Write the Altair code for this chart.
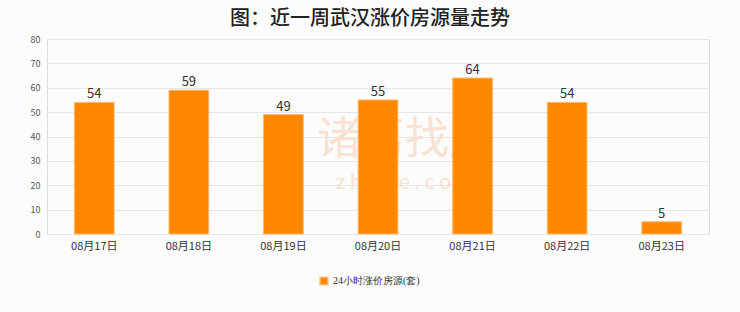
import altair as alt
import pandas as pd

dates = ["08月17日", "08月18日", "08月19日", "08月20日", "08月21日", "08月22日", "08月23日"]
values = [54, 59, 49, 55, 64, 54, 5]
series = "24小时涨价房源(套)"

df = pd.DataFrame({"date": dates, "value": values, "series": [series] * len(dates)})

FONT = "Noto Sans CJK SC"

base = alt.Chart(df).encode(
    x=alt.X("date:N", sort=dates, title=None,
            scale=alt.Scale(paddingInner=0.58, paddingOuter=0.29),
            axis=alt.Axis(labelAngle=0, labelFontSize=11, labelColor="#333333",
                          labelFont=FONT, ticks=False, domain=False, labelPadding=6)),
    y=alt.Y("value:Q", title=None,
            scale=alt.Scale(domain=[0, 80]),
            axis=alt.Axis(values=[0, 10, 20, 30, 40, 50, 60, 70, 80], labelFontSize=9,
                          labelColor="#555555", labelFont=FONT, ticks=False, domain=False,
                          gridColor="#e6e6e6", labelPadding=7)),
)

# faint watermark behind the bars
wm = alt.Chart(pd.DataFrame({"a": ["诸葛找房"], "b": ["z h u g e . c o m"]}))
wm_main = wm.mark_text(fontSize=44, font=FONT, color="#f9dcc6", opacity=0.8).encode(
    text="a:N", x=alt.value(358), y=alt.value(102))
wm_sub = wm.mark_text(fontSize=20, font=FONT, color="#f9dcc6", opacity=0.8).encode(
    text="b:N", x=alt.value(358), y=alt.value(144))

bars = base.mark_bar(color="#ff8800", stroke="#ffb870", strokeWidth=1).encode(
    color=alt.Color("series:N", scale=alt.Scale(range=["#ff8800"]),
                    legend=alt.Legend(title=None, orient="none", legendX=272, legendY=237,
                                      symbolType="square", symbolSize=60,
                                      labelFontSize=10, labelColor="#333333",
                                      labelFont="Liberation Serif"))
)

labels = base.mark_text(dy=-8, fontSize=13, color="#333333", font=FONT).encode(
    text="value:Q"
)

chart = (wm_main + wm_sub + bars + labels).properties(
    width=662, height=195,
    title=alt.Title("图：近一周武汉涨价房源量走势", fontSize=20, font=FONT, fontWeight=500,
                    color="#222222", anchor="middle", offset=6, dx=-8),
).configure(
    autosize=alt.AutoSizeParams(type="none"),
    padding={"left": 47, "top": 39, "right": 31, "bottom": 78},
    background="#fcfcfc",
).configure_view(stroke="#dddddd", strokeWidth=1)

chart.save("out.html", embed_options={"renderer": "svg", "actions": False})
